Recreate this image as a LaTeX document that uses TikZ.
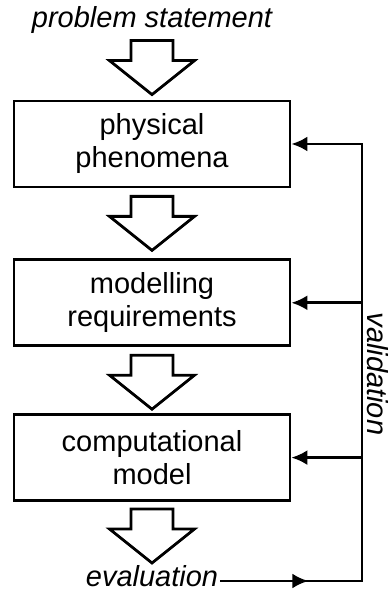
\documentclass[tikz,border=0pt]{standalone}
\usepackage{fontspec}
\setmainfont{Liberation Sans}
\usepackage{tikz}
\usetikzlibrary{arrows.meta,calc,positioning}
\usepackage{xcolor}

\tikzset{
  box/.style={draw,line width=2.8pt,minimum width=276pt,minimum height=86pt,align=center,inner sep=0pt},
  caption/.style={font=\fontsize{29}{33}\selectfont\itshape,inner sep=0pt},
  fbline/.style={line width=2.6pt},
  fbarrow/.style={fbline,-{Latex[length=16pt,width=15pt]}},
  bigarrow/.pic={\draw[line width=2.8pt,line join=miter,fill=white] (-21,0) -- (21,0) -- (21,-20) -- (42.5,-20) -- (0,-54) -- (-42.5,-20) -- (-21,-20) -- cycle;}
}

\begin{document}
\begin{tikzpicture}[x=1pt,y=1pt,font=\fontsize{29}{33}\selectfont]
\useasboundingbox (0,0) rectangle (391,591);
\node[box] (phys) at (152,447) {physical\\phenomena};
\node[box,below=70pt of phys] (reqs) {modelling\\requirements};
\node[box,below=66pt of reqs] (model) {computational\\model};
\node[caption,anchor=base] (prob) at (152,563) {problem statement};
\node[caption,anchor=base] (eval) at (152,4.5) {evaluation};
\node[caption,rotate=-90] (valid) at (378,217) {validation};
\pic at ($(phys.north)+(0,59)$) {bigarrow};
\pic at ($(phys.south)+(0,-8)$) {bigarrow};
\pic at ($(reqs.south)+(0,-8)$) {bigarrow};
\pic at ($(model.south)+(0,-7)$) {bigarrow};
\coordinate (corner) at (362,10);
\draw[fbarrow] ($(eval.east |- corner)+(2,0)$) -- +(88,0);
\draw[fbarrow] ($(eval.east |- corner)+(2,0)$) -- (corner) -- (corner |- phys.east) -- (phys.east);
\draw[fbarrow] (corner |- reqs.east) -- (reqs.east);
\draw[fbarrow] (corner |- model.east) -- (model.east);
\end{tikzpicture}
\end{document}
